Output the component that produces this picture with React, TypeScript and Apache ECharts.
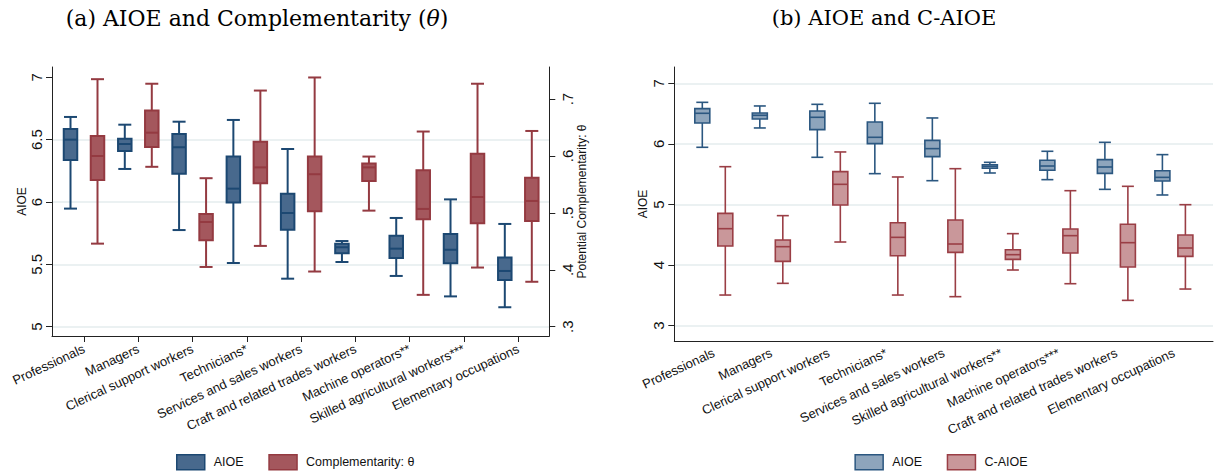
import React, { useEffect, useRef } from 'react';
import * as echarts from 'echarts';

// ---------- DATA ----------
const categoriesA = [
  'Professionals',
  'Managers',
  'Clerical support workers',
  'Technicians*',
  'Services and sales workers',
  'Craft and related trades workers',
  'Machine operators**',
  'Skilled agricultural workers***',
  'Elementary occupations',
];
const categoriesB = [
  'Professionals',
  'Managers',
  'Clerical support workers',
  'Technicians*',
  'Services and sales workers',
  'Skilled agricultural workers**',
  'Machine operators***',
  'Craft and related trades workers',
  'Elementary occupations',
];

// each row: [min, q1, median, q3, max]
const aioeA = [
  [5.947, 6.337, 6.5, 6.586, 6.682],
  [6.265, 6.409, 6.465, 6.508, 6.62],
  [5.775, 6.227, 6.439, 6.545, 6.644],
  [5.511, 5.995, 6.107, 6.364, 6.658],
  [5.385, 5.778, 5.912, 6.067, 6.425],
  [5.519, 5.589, 5.637, 5.666, 5.687],
  [5.407, 5.551, 5.626, 5.73, 5.872],
  [5.243, 5.508, 5.617, 5.743, 6.021],
  [5.156, 5.375, 5.447, 5.554, 5.824],
];
const complementarityA = [
  [0.446, 0.558, 0.6, 0.635, 0.735],
  [0.581, 0.616, 0.641, 0.68, 0.727],
  [0.405, 0.452, 0.484, 0.498, 0.561],
  [0.442, 0.552, 0.58, 0.625, 0.715],
  [0.397, 0.503, 0.568, 0.599, 0.738],
  [0.504, 0.556, 0.58, 0.587, 0.599],
  [0.356, 0.489, 0.507, 0.575, 0.643],
  [0.404, 0.482, 0.528, 0.604, 0.727],
  [0.379, 0.486, 0.521, 0.562, 0.644],
];
const aioeB = [
  [5.944, 6.345, 6.505, 6.582, 6.686],
  [6.263, 6.411, 6.472, 6.51, 6.626],
  [5.779, 6.235, 6.439, 6.543, 6.653],
  [5.509, 6.004, 6.109, 6.362, 6.67],
  [5.393, 5.79, 5.922, 6.059, 6.428],
  [5.52, 5.597, 5.63, 5.657, 5.696],
  [5.41, 5.564, 5.635, 5.729, 5.878],
  [5.25, 5.514, 5.619, 5.74, 6.026],
  [5.157, 5.388, 5.448, 5.558, 5.823],
];
const caioeB = [
  [3.506, 4.315, 4.601, 4.854, 5.624],
  [3.699, 4.062, 4.304, 4.414, 4.816],
  [4.381, 4.992, 5.333, 5.542, 5.867],
  [3.506, 4.155, 4.458, 4.7, 5.454],
  [3.479, 4.21, 4.348, 4.744, 5.591],
  [3.919, 4.095, 4.172, 4.254, 4.519],
  [3.693, 4.199, 4.486, 4.596, 5.228],
  [3.418, 3.968, 4.37, 4.673, 5.3],
  [3.605, 4.144, 4.282, 4.497, 4.997],
];

const leftTicksA = [5, 5.5, 6, 6.5, 7];
const leftGridA = [5, 5.5, 6, 6.5];
const rightTicksA = [0.3, 0.4, 0.5, 0.6, 0.7];
const ticksB = [3, 4, 5, 6, 7];

// ---------- STYLE ----------
const SANS = '"Liberation Sans", Arial, Helvetica, sans-serif';
const SERIF = '"DejaVu Serif", serif';
const C = {
  blueFillA: '#48698d',
  blueLineA: '#1c4872',
  redFillA: '#a4575d',
  redLineA: '#943a41',
  blueFillB: '#8ea5bc',
  blueLineB: '#2b5780',
  redFillB: '#c9979a',
  redLineB: '#9a3e45',
  grid: '#e4ecee',
  axis: '#222',
  text: '#111',
};

const rows = (arr: number[][]) => arr.map((r, i) => [i, ...r]);

function boxRenderer(offset: number, boxW: number, capW: number, fill: string, stroke: string, lw: number) {
  return (_params: any, api: any) => {
    const i = api.value(0);
    const pt = (k: number) => api.coord([i, api.value(k)]);
    const [cx0, yMin] = pt(1);
    const yQ1 = pt(2)[1];
    const yMed = pt(3)[1];
    const yQ3 = pt(4)[1];
    const yMax = pt(5)[1];
    const cx = cx0 + offset;
    const ls = { stroke, lineWidth: lw };
    return {
      type: 'group',
      children: [
        { type: 'line', shape: { x1: cx, y1: yMax, x2: cx, y2: yQ3 }, style: ls },
        { type: 'line', shape: { x1: cx, y1: yQ1, x2: cx, y2: yMin }, style: ls },
        { type: 'line', shape: { x1: cx - capW / 2, y1: yMax, x2: cx + capW / 2, y2: yMax }, style: ls },
        { type: 'line', shape: { x1: cx - capW / 2, y1: yMin, x2: cx + capW / 2, y2: yMin }, style: ls },
        {
          type: 'rect',
          shape: { x: cx - boxW / 2, y: yQ3, width: boxW, height: yQ1 - yQ3 },
          style: { fill, stroke, lineWidth: lw },
        },
        { type: 'line', shape: { x1: cx - boxW / 2, y1: yMed, x2: cx + boxW / 2, y2: yMed }, style: ls },
      ],
    };
  };
}

function xAxisCfg(gridIndex: number, cats: string[], min: number, max: number, showTick: boolean, margin: number) {
  const vals = cats.map((_, i) => i);
  return {
    type: 'value',
    gridIndex,
    min,
    max,
    axisLine: { show: true, onZero: false, lineStyle: { color: C.axis, width: 1 } },
    axisTick: { show: showTick, length: 6, customValues: vals, lineStyle: { color: C.axis, width: 1 } },
    axisLabel: {
      customValues: vals,
      rotate: 25,
      margin,
      fontSize: 13,
      fontFamily: SANS,
      color: C.text,
      formatter: (v: number) => cats[Math.round(v)] ?? '',
    },
    splitLine: { show: false },
  };
}

function yAxisCfg(o: any) {
  return {
    type: 'value',
    gridIndex: o.gridIndex,
    position: o.position,
    min: o.min,
    max: o.max,
    name: o.name,
    nameLocation: 'middle',
    nameRotate: 90,
    nameGap: o.nameGap,
    nameTextStyle: { fontSize: 12, fontFamily: SANS, color: C.text },
    axisLine: { show: true, onZero: false, lineStyle: { color: C.axis, width: 1 } },
    axisTick: { show: true, length: 6, customValues: o.ticks, lineStyle: { color: C.axis, width: 1 } },
    axisLabel: {
      customValues: o.ticks,
      rotate: 90,
      margin: o.labelMargin,
      fontSize: 15,
      fontFamily: SANS,
      color: C.text,
      formatter: o.formatter,
    },
    splitLine: { show: false },
  };
}

function legendCfg(left: number, name: string, fill: string, stroke: string) {
  return {
    left,
    top: 454,
    padding: 0,
    itemWidth: 28,
    itemHeight: 15,
    icon: 'rect',
    selectedMode: false,
    data: [{ name, itemStyle: { color: fill, borderColor: stroke, borderWidth: 1.5 } }],
    textStyle: { fontSize: 12.5, fontFamily: SANS, color: C.text, padding: [0, 0, 0, 4] },
  };
}

function gridLineSeries(xAxisIndex: number, yAxisIndex: number, values: number[]) {
  return {
    type: 'line',
    xAxisIndex,
    yAxisIndex,
    data: [],
    silent: true,
    markLine: {
      silent: true,
      symbol: 'none',
      label: { show: false },
      lineStyle: { color: C.grid, width: 1.5, type: 'solid' },
      data: values.map((v) => ({ yAxis: v })),
      z: 0,
    },
    z: 0,
  };
}

function buildOption() {
  return {
    animation: false,
    backgroundColor: '#fff',
    graphic: [
      {
        type: 'text',
        x: 257,
        y: 18,
        style: {
          text: '(a) AIOE and Complementarity ({i|θ})',
          fontSize: 22,
          fontFamily: SERIF,
          fill: '#000',
          textAlign: 'center',
          textVerticalAlign: 'middle',
          rich: { i: { fontStyle: 'italic', fontSize: 22, fontFamily: SERIF, fill: '#000' } },
        },
      },
      {
        type: 'text',
        x: 884,
        y: 18,
        style: {
          text: '(b) AIOE and C-AIOE',
          fontSize: 21,
          fontFamily: SERIF,
          fill: '#000',
          textAlign: 'center',
          textVerticalAlign: 'middle',
        },
      },
    ],
    grid: [
      { left: 52, top: 67, width: 497.3, height: 269, containLabel: false, outerBoundsMode: 'none' },
      { left: 674.3, top: 67, width: 538.7, height: 274, containLabel: false, outerBoundsMode: 'none' },
    ],
    xAxis: [
      xAxisCfg(0, categoriesA, -0.5895, 8.571, true, 12),
      xAxisCfg(1, categoriesB, -0.6868, 8.6799, false, 11),
    ],
    yAxis: [
      yAxisCfg({
        gridIndex: 0,
        position: 'left',
        min: 4.9254,
        max: 7.0826,
        ticks: leftTicksA,
        name: 'AIOE',
        nameGap: 24,
        labelMargin: 8,
        formatter: (v: number) => String(v),
      }),
      yAxisCfg({
        gridIndex: 0,
        position: 'right',
        min: 0.2837,
        max: 0.7564,
        ticks: rightTicksA,
        name: 'Potential Complementarity: θ',
        nameGap: 25,
        labelMargin: 11,
        formatter: (v: number) => v.toFixed(1).replace(/^0/, ''),
      }),
      yAxisCfg({
        gridIndex: 1,
        position: 'left',
        min: 2.7475,
        max: 7.269,
        ticks: ticksB,
        name: 'AIOE',
        nameGap: 25,
        labelMargin: 8,
        formatter: (v: number) => String(v),
      }),
    ],
    legend: [
      legendCfg(176, 'AIOE', C.blueFillA, C.blueLineA),
      legendCfg(268.3, 'Complementarity: θ', C.redFillA, C.redLineA),
      legendCfg(854.4, 'AIOE', C.blueFillB, C.blueLineB),
      legendCfg(946.7, 'C-AIOE', C.redFillB, C.redLineB),
    ],
    series: [
      gridLineSeries(0, 0, leftGridA),
      gridLineSeries(1, 2, ticksB),
      {
        type: 'custom',
        name: 'AIOE',
        coordinateSystem: 'cartesian2d',
        xAxisIndex: 0,
        yAxisIndex: 0,
        encode: { x: 0, y: [1, 2, 3, 4, 5] },
        itemStyle: { color: C.blueFillA, borderColor: C.blueLineA },
        renderItem: boxRenderer(-13.5, 13.5, 13, C.blueFillA, C.blueLineA, 2),
        data: rows(aioeA),
        silent: true,
        z: 2,
      },
      {
        type: 'custom',
        name: 'Complementarity: θ',
        coordinateSystem: 'cartesian2d',
        xAxisIndex: 0,
        yAxisIndex: 1,
        encode: { x: 0, y: [1, 2, 3, 4, 5] },
        itemStyle: { color: C.redFillA, borderColor: C.redLineA },
        renderItem: boxRenderer(13.5, 13.5, 13, C.redFillA, C.redLineA, 2),
        data: rows(complementarityA),
        silent: true,
        z: 2,
      },
      {
        type: 'custom',
        name: 'AIOE',
        coordinateSystem: 'cartesian2d',
        xAxisIndex: 1,
        yAxisIndex: 2,
        encode: { x: 0, y: [1, 2, 3, 4, 5] },
        itemStyle: { color: C.blueFillB, borderColor: C.blueLineB },
        renderItem: boxRenderer(-11.5, 15, 12, C.blueFillB, C.blueLineB, 1.6),
        data: rows(aioeB),
        silent: true,
        z: 2,
      },
      {
        type: 'custom',
        name: 'C-AIOE',
        coordinateSystem: 'cartesian2d',
        xAxisIndex: 1,
        yAxisIndex: 2,
        encode: { x: 0, y: [1, 2, 3, 4, 5] },
        itemStyle: { color: C.redFillB, borderColor: C.redLineB },
        renderItem: boxRenderer(11.5, 15, 12, C.redFillB, C.redLineB, 1.6),
        data: rows(caioeB),
        silent: true,
        z: 2,
      },
    ],
  };
}

export default function App() {
  const ref = useRef<HTMLDivElement>(null);
  useEffect(() => {
    if (!ref.current) return;
    const chart = echarts.init(ref.current, null, { renderer: 'svg' });
    chart.setOption(buildOption() as any);
    return () => chart.dispose();
  }, []);
  return (
    <div
      ref={ref}
      style={{ position: 'fixed', left: 0, top: 0, width: 1215, height: 476, background: '#fff' }}
    />
  );
}
